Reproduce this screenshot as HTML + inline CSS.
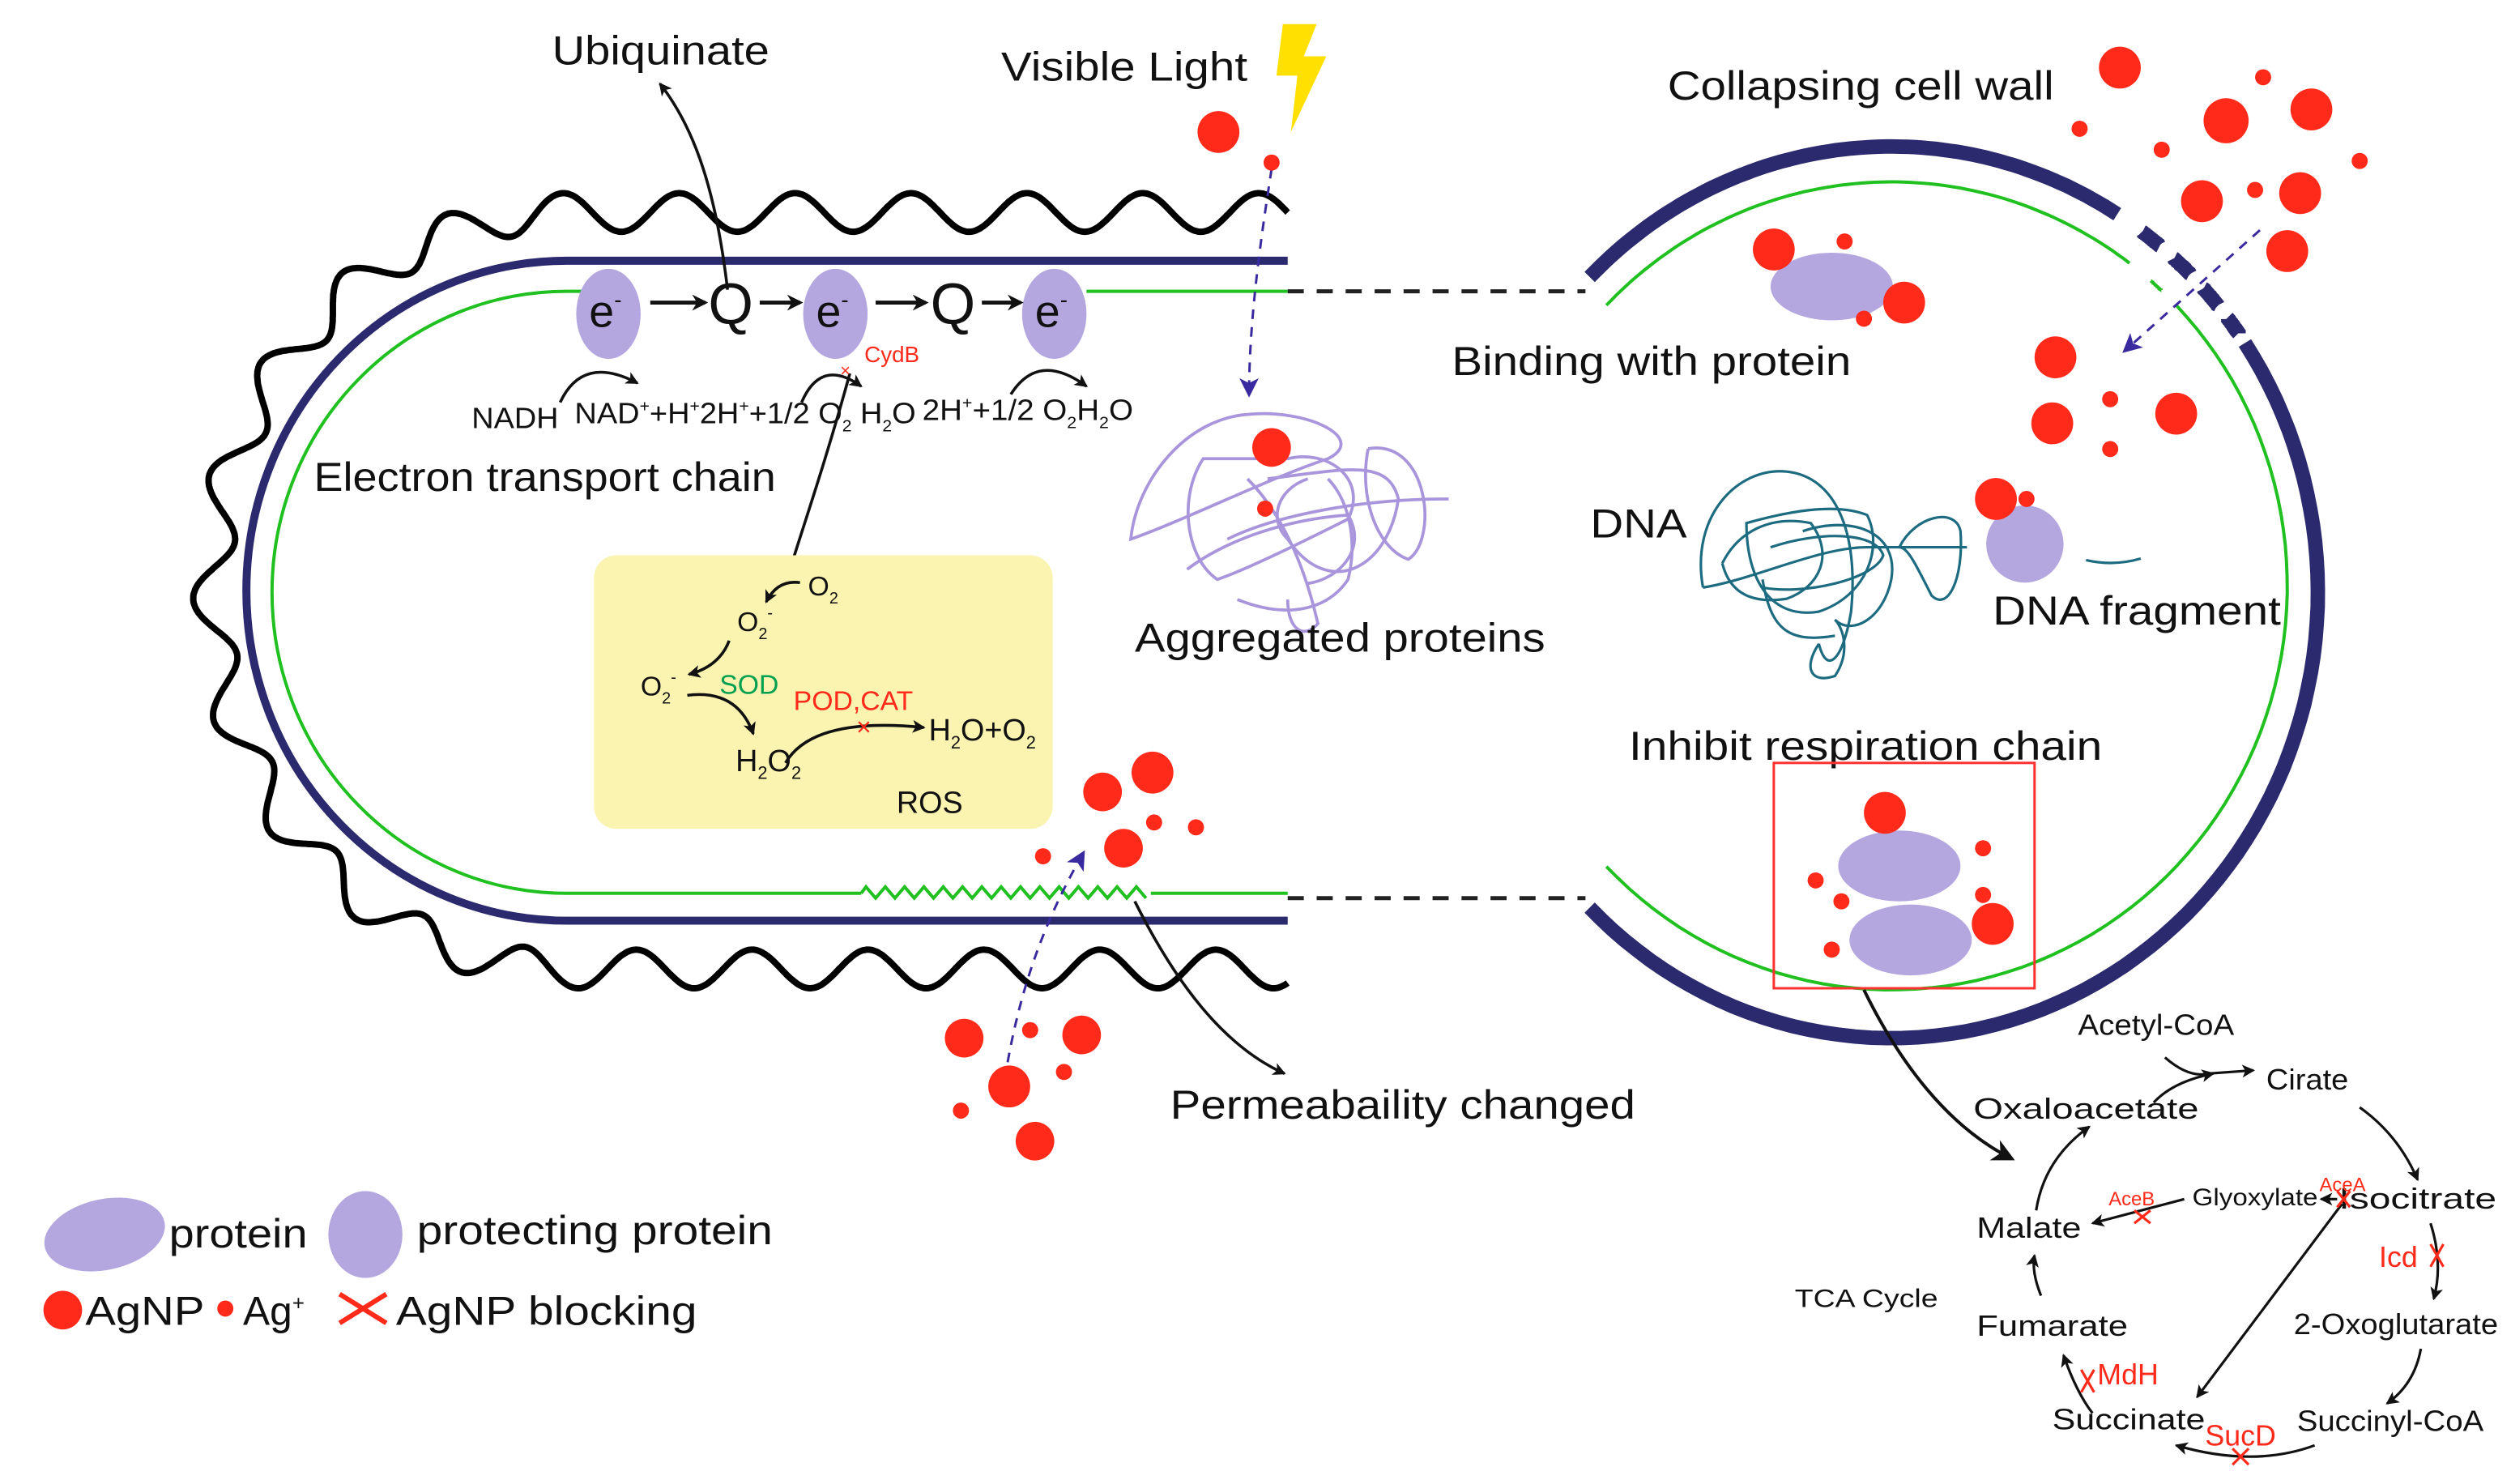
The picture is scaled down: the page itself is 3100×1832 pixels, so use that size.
<!DOCTYPE html>
<html><head><meta charset="utf-8">
<style>
html,body{margin:0;padding:0;background:#fff;}
svg{display:block;}
text{font-family:"Liberation Sans",Arial,sans-serif;fill:#111;}
.r{fill:#ff2a1a;}
.p{fill:#b4a7e0;}
</style></head>
<body>
<svg id="s" width="3100" height="1832" viewBox="0 0 1560 922" preserveAspectRatio="none" xmlns="http://www.w3.org/2000/svg">
<defs>
<marker id="ah" markerWidth="10" markerHeight="10" refX="8" refY="5" orient="auto" markerUnits="userSpaceOnUse"><path d="M0,0 L10,5 L0,10 L3,5 Z" fill="#111"/></marker>
<marker id="ahs" markerWidth="8" markerHeight="8" refX="7" refY="4" orient="auto" markerUnits="userSpaceOnUse"><path d="M0,0 L8,4 L0,8 L2,4 Z" fill="#111"/></marker>
<marker id="ahb" markerWidth="14" markerHeight="14" refX="12" refY="7" orient="auto" markerUnits="userSpaceOnUse"><path d="M0,0 L14,7 L0,14 L4,7 Z" fill="#111"/></marker>
<marker id="ap" markerWidth="12" markerHeight="12" refX="10" refY="6" orient="auto" markerUnits="userSpaceOnUse"><path d="M0,0 L12,6 L0,12 L3,6 Z" fill="#3a2aa0"/></marker>
</defs>

<!-- left cell -->
<path id="wave" d="" fill="none" stroke="#000" stroke-width="4"/>
<path d="M800,162 H352 A197,203 0 0 0 352,572 H800" fill="none" stroke="#2b2a6e" stroke-width="5"/>
<path d="M362,181 H352 A183,187 0 0 0 352,555 H535" fill="none" stroke="#1fc01f" stroke-width="2"/>
<path d="M715,555 H800" fill="none" stroke="#1fc01f" stroke-width="2"/>
<path id="zig" d="" fill="none" stroke="#1fc01f" stroke-width="2"/>
<path d="M675,181 H800" stroke="#1fc01f" stroke-width="2"/>
<path d="M800,181 H985 M800,558 H985" stroke="#222" stroke-width="2.5" stroke-dasharray="10,8"/>

<!-- ETC -->
<ellipse class="p" cx="378" cy="195" rx="20" ry="28"/>
<ellipse class="p" cx="519" cy="195" rx="20" ry="28"/>
<ellipse class="p" cx="655" cy="195" rx="20" ry="28"/>
<text x="366" y="203" font-size="28">e<tspan font-size="14" dy="-12">-</tspan></text>
<text x="507" y="203" font-size="28">e<tspan font-size="14" dy="-12">-</tspan></text>
<text x="643" y="203" font-size="28">e<tspan font-size="14" dy="-12">-</tspan></text>
<text x="440" y="201" font-size="36">Q</text>
<text x="578" y="201" font-size="36">Q</text>
<g stroke="#111" stroke-width="2.5" marker-end="url(#ah)">
<line x1="404" y1="188" x2="438" y2="188"/>
<line x1="472" y1="188" x2="497" y2="188"/>
<line x1="544" y1="188" x2="575" y2="188"/>
<line x1="610" y1="188" x2="634" y2="188"/>
</g>
<g fill="none" stroke="#111" stroke-width="1.8" marker-end="url(#ahs)">
<path d="M348,250 Q362,220 396,238"/>
<path d="M498,250 Q510,222 535,240"/>
<path d="M628,245 Q645,218 675,240"/>
<path d="M452,180 C445,120 432,80 410,52"/>
<path d="M528,232 C512,290 498,330 492,350 Q488,363 476,372"/>
<path d="M705,560 C730,610 760,650 798,667"/>
</g>
<text x="537" y="225" font-size="14" style="fill:#ff2a1a">CydB</text>
<text x="522" y="234" font-size="11" style="fill:#ff2a1a">×</text>
<text x="293" y="266" font-size="18" textLength="54" lengthAdjust="spacingAndGlyphs">NADH</text>
<text x="357" y="263" font-size="18" textLength="212" lengthAdjust="spacingAndGlyphs">NAD<tspan font-size="10" dy="-7">+</tspan><tspan dy="7">+H</tspan><tspan font-size="10" dy="-7">+</tspan><tspan dy="7">2H</tspan><tspan font-size="10" dy="-7">+</tspan><tspan dy="7">+1/2 O</tspan><tspan font-size="10" dy="5">2</tspan><tspan dy="-5"> H</tspan><tspan font-size="10" dy="5">2</tspan><tspan dy="-5">O</tspan></text>
<text x="573" y="261" font-size="18" textLength="131" lengthAdjust="spacingAndGlyphs">2H<tspan font-size="10" dy="-7">+</tspan><tspan dy="7">+1/2 O</tspan><tspan font-size="10" dy="5">2</tspan><tspan dy="-5">H</tspan><tspan font-size="10" dy="5">2</tspan><tspan dy="-5">O</tspan></text>
<text x="195" y="305" font-size="25" textLength="287" lengthAdjust="spacingAndGlyphs">Electron transport chain</text>
<text x="343" y="40" font-size="25" textLength="135" lengthAdjust="spacingAndGlyphs">Ubiquinate</text>
<text x="622" y="50" font-size="25" textLength="153" lengthAdjust="spacingAndGlyphs">Visible Light</text>
<path d="M797,15 L818,15 L810,35 L824,35 L802,82 L806,47 L793,47 Z" fill="#ffe000"/>

<!-- ROS box -->
<rect x="369" y="345" width="285" height="170" rx="14" fill="#fbf3b0"/>
<g fill="none" stroke="#111" stroke-width="1.8" marker-end="url(#ahs)">
<path d="M497,362 Q483,360 476,374"/>
<path d="M453,398 Q447,414 428,419"/>
<path d="M427,432 Q458,428 468,456"/>
<path d="M488,474 Q505,445 574,452"/>
</g>
<text x="502" y="370" font-size="17">O<tspan font-size="10" dy="5">2</tspan></text>
<text x="458" y="392" font-size="17">O<tspan font-size="10" dy="5">2</tspan><tspan font-size="10" dy="-13">-</tspan></text>
<text x="398" y="432" font-size="17">O<tspan font-size="10" dy="5">2</tspan><tspan font-size="10" dy="-13">-</tspan></text>
<text x="447" y="431" font-size="17" style="fill:#00a050">SOD</text>
<text x="493" y="441" font-size="17" style="fill:#ff2a1a">POD,CAT</text>
<text x="532" y="457" font-size="16" style="fill:#ff2a1a">×</text>
<text x="577" y="460" font-size="19">H<tspan font-size="11" dy="5">2</tspan><tspan dy="-5">O+O</tspan><tspan font-size="11" dy="5">2</tspan></text>
<text x="457" y="479" font-size="19">H<tspan font-size="11" dy="5">2</tspan><tspan dy="-5">O</tspan><tspan font-size="11" dy="5">2</tspan></text>
<text x="557" y="505" font-size="19">ROS</text>

<!-- aggregated proteins -->
<g fill="none" stroke="#a895dc" stroke-width="1.5" transform="translate(800,320) scale(1.25) translate(-790,-318)">
<path d="M770,268 C740,270 715,300 712,330 C740,320 780,300 810,290 C830,280 800,265 770,268 Z"/>
<path d="M748,290 C735,310 740,340 755,350 C770,345 800,330 820,320 C830,300 810,285 790,290 Z"/>
<path d="M780,300 C820,295 840,290 845,310 C840,345 810,360 790,330 C780,320 785,305 800,300"/>
<path d="M760,330 C780,320 820,310 870,310"/>
<path d="M770,300 C790,320 800,350 805,372 C798,380 790,375 790,360"/>
<path d="M765,360 C790,370 810,365 820,350 C825,330 820,310 810,300"/>
<path d="M830,285 C860,280 865,330 850,340 C835,335 825,310 830,285"/>
<path d="M740,345 C760,330 790,320 820,318 C830,335 815,350 800,352"/>
</g>
<circle class="r" cx="790" cy="278" r="12"/>
<circle class="r" cx="786" cy="316" r="5"/>
<path d="M790,105 C783,150 776,200 776,245" fill="none" stroke="#3a2aa0" stroke-width="1.5" stroke-dasharray="6,5" marker-end="url(#ap)"/>
<circle class="r" cx="757" cy="82" r="13"/>
<circle class="r" cx="790" cy="101" r="5"/>
<text x="705" y="405" font-size="25" textLength="255" lengthAdjust="spacingAndGlyphs">Aggregated proteins</text>

<!-- ROS-side dots and permeability -->
<circle class="r" cx="716" cy="480" r="13"/>
<circle class="r" cx="685" cy="492" r="12"/>
<circle class="r" cx="698" cy="527" r="12"/>
<circle class="r" cx="717" cy="511" r="5"/>
<circle class="r" cx="743" cy="514" r="5"/>
<circle class="r" cx="648" cy="532" r="5"/>
<circle class="r" cx="599" cy="645" r="12"/>
<circle class="r" cx="640" cy="640" r="5"/>
<circle class="r" cx="672" cy="643" r="12"/>
<circle class="r" cx="627" cy="675" r="13"/>
<circle class="r" cx="661" cy="666" r="5"/>
<circle class="r" cx="597" cy="690" r="5"/>
<circle class="r" cx="643" cy="709" r="12"/>
<path d="M626,660 C635,610 650,570 673,530" fill="none" stroke="#3a2aa0" stroke-width="1.5" stroke-dasharray="6,5" marker-end="url(#ap)"/>
<text x="727" y="695" font-size="25" textLength="289" lengthAdjust="spacingAndGlyphs">Permeabaility changed</text>

<!-- right cell -->
<path id="navy" d="" fill="none" stroke="#2b2a6e" stroke-width="9"/>
<path id="green" d="" fill="none" stroke="#1fc01f" stroke-width="2"/>
<text x="1036" y="62" font-size="25" textLength="240" lengthAdjust="spacingAndGlyphs">Collapsing cell wall</text>
<ellipse class="p" cx="1138" cy="178" rx="38" ry="21"/>
<circle class="r" cx="1102" cy="155" r="13"/>
<circle class="r" cx="1183" cy="188" r="13"/>
<circle class="r" cx="1146" cy="150" r="5"/>
<circle class="r" cx="1158" cy="198" r="5"/>
<text x="902" y="233" font-size="25" textLength="248" lengthAdjust="spacingAndGlyphs">Binding with protein</text>

<g>
<circle class="r" cx="1317" cy="42" r="13"/><circle class="r" cx="1383" cy="75" r="14"/><circle class="r" cx="1436" cy="68" r="13"/>
<circle class="r" cx="1406" cy="48" r="5"/><circle class="r" cx="1292" cy="80" r="5"/><circle class="r" cx="1343" cy="93" r="5"/>
<circle class="r" cx="1368" cy="125" r="13"/><circle class="r" cx="1429" cy="120" r="13"/><circle class="r" cx="1401" cy="118" r="5"/>
<circle class="r" cx="1466" cy="100" r="5"/><circle class="r" cx="1421" cy="156" r="13"/><circle class="r" cx="1277" cy="222" r="13"/>
<circle class="r" cx="1275" cy="263" r="13"/><circle class="r" cx="1352" cy="257" r="13"/><circle class="r" cx="1311" cy="248" r="5"/><circle class="r" cx="1311" cy="279" r="5"/>
</g>
<path d="M1404,143 L1320,218" fill="none" stroke="#3a2aa0" stroke-width="1.5" stroke-dasharray="6,5" marker-end="url(#ap)"/>

<text x="988" y="334" font-size="25" textLength="60" lengthAdjust="spacingAndGlyphs">DNA</text>
<g fill="none" stroke="#1d6b80" stroke-width="1.6">
<path d="M1058,365 C1050,320 1080,290 1110,293 C1140,296 1155,330 1150,380 C1145,410 1135,420 1130,400"/>
<path d="M1058,365 C1090,360 1130,340 1160,340 L1222,340"/>
<path d="M1085,325 C1110,318 1140,312 1160,320 C1170,340 1160,370 1130,380 C1100,385 1085,360 1085,325 Z"/>
<path d="M1100,340 C1130,330 1165,330 1170,345 C1165,360 1120,370 1095,365"/>
<path d="M1120,330 C1150,320 1180,330 1175,360 C1170,385 1150,395 1140,385"/>
<path d="M1180,340 C1190,320 1215,315 1218,330 C1220,360 1210,380 1200,370 C1190,350 1185,340 1180,340"/>
<path d="M1095,360 C1100,390 1110,400 1140,395"/>
<path d="M1130,400 C1120,415 1125,425 1140,420 C1150,405 1145,390 1140,385"/>
<path d="M1070,350 C1080,330 1100,320 1125,325 C1140,345 1130,365 1110,372 C1090,375 1075,370 1070,350"/>
</g>
<circle class="p" cx="1258" cy="338" r="24"/>
<circle class="r" cx="1240" cy="310" r="13"/>
<circle class="r" cx="1259" cy="310" r="5"/>
<path d="M1296,348 Q1313,352 1330,347" fill="none" stroke="#1d6b80" stroke-width="1.6"/>
<text x="1238" y="388" font-size="25" textLength="179" lengthAdjust="spacingAndGlyphs">DNA fragment</text>

<text x="1012" y="472" font-size="25" textLength="294" lengthAdjust="spacingAndGlyphs">Inhibit respiration chain</text>
<rect x="1102" y="474" width="162" height="140" fill="none" stroke="#ff3030" stroke-width="1.5"/>
<ellipse class="p" cx="1180" cy="538" rx="38" ry="22"/>
<ellipse class="p" cx="1187" cy="584" rx="38" ry="22"/>
<circle class="r" cx="1171" cy="505" r="13"/><circle class="r" cx="1238" cy="574" r="13"/>
<circle class="r" cx="1232" cy="527" r="5"/><circle class="r" cx="1232" cy="556" r="5"/>
<circle class="r" cx="1128" cy="547" r="5"/><circle class="r" cx="1144" cy="560" r="5"/><circle class="r" cx="1138" cy="590" r="5"/>
<path d="M1158,615 C1180,660 1210,700 1250,720" fill="none" stroke="#111" stroke-width="2" marker-end="url(#ahb)"/>

<!-- TCA -->
<g font-size="18">
<text x="1291" y="643" textLength="97" lengthAdjust="spacingAndGlyphs">Acetyl-CoA</text>
<text x="1408" y="677" textLength="51" lengthAdjust="spacingAndGlyphs">Cirate</text>
<text x="1226" y="695" textLength="140" lengthAdjust="spacingAndGlyphs">Oxaloacetate</text>
<text x="1453" y="751" textLength="98" lengthAdjust="spacingAndGlyphs">Isocitrate</text>
<text x="1362" y="749" font-size="15" textLength="78" lengthAdjust="spacingAndGlyphs">Glyoxylate</text>
<text x="1228" y="769" textLength="65" lengthAdjust="spacingAndGlyphs">Malate</text>
<text x="1115" y="812" font-size="16" textLength="89" lengthAdjust="spacingAndGlyphs">TCA Cycle</text>
<text x="1228" y="830" textLength="94" lengthAdjust="spacingAndGlyphs">Fumarate</text>
<text x="1425" y="829" textLength="127" lengthAdjust="spacingAndGlyphs">2-Oxoglutarate</text>
<text x="1275" y="888" textLength="95" lengthAdjust="spacingAndGlyphs">Succinate</text>
<text x="1427" y="889" textLength="116" lengthAdjust="spacingAndGlyphs">Succinyl-CoA</text>
<text x="1478" y="787" style="fill:#ff2a1a">Icd</text>
<text x="1303" y="860" style="fill:#ff2a1a">MdH</text>
<text x="1370" y="898" style="fill:#ff2a1a">SucD</text>
<text x="1310" y="749" font-size="12" style="fill:#ff2a1a">AceB</text>
<text x="1441" y="740" font-size="12" style="fill:#ff2a1a">AceA</text>
</g>
<g fill="none" stroke="#111" stroke-width="1.6" marker-end="url(#ahs)">
<path d="M1345,657 Q1360,670 1372,667 L1400,665"/>
<path d="M1338,685 Q1350,672 1375,667"/>
<path d="M1466,688 Q1490,705 1502,733"/>
<path d="M1510,760 Q1518,785 1512,807"/>
<path d="M1504,838 Q1500,860 1483,872"/>
<path d="M1438,898 Q1400,912 1352,898"/>
<path d="M1300,878 Q1290,865 1282,842"/>
<path d="M1268,805 Q1262,790 1264,780"/>
<path d="M1265,752 Q1270,720 1298,700"/>
<path d="M1452,745 L1442,745"/>
<path d="M1357,745 L1300,760"/>
<path d="M1455,748 L1365,868"/>
</g>
<g stroke="#ff2a1a" stroke-width="1.6">
<path d="M1452,740 L1460,750 M1460,740 L1452,750"/>
<path d="M1326,752 L1336,760 M1336,752 L1326,760"/>
<path d="M1510,773 L1518,787 M1518,773 L1510,787"/>
<path d="M1293,851 L1301,865 M1301,851 L1293,865"/>
<path d="M1387,900 L1397,910 M1397,900 L1387,910"/>
</g>

<!-- legend -->
<ellipse class="p" cx="65" cy="767" rx="38" ry="22" transform="rotate(-12 65 767)"/>
<text x="105" y="775" font-size="25" textLength="86" lengthAdjust="spacingAndGlyphs">protein</text>
<ellipse class="p" cx="227" cy="767" rx="23" ry="27"/>
<text x="259" y="773" font-size="25" textLength="221" lengthAdjust="spacingAndGlyphs">protecting protein</text>
<circle class="r" cx="39" cy="814" r="12"/>
<text x="53" y="823" font-size="25" textLength="74" lengthAdjust="spacingAndGlyphs">AgNP</text>
<circle class="r" cx="140" cy="813" r="5"/>
<text x="151" y="823" font-size="25">Ag<tspan font-size="13" dy="-9">+</tspan></text>
<path d="M211,804 L240,822 M240,804 L211,822" stroke="#ff2a1a" stroke-width="3"/>
<text x="246" y="823" font-size="25" textLength="187" lengthAdjust="spacingAndGlyphs">AgNP blocking</text>
</svg>
<script>
(function(){
var cx=352,cy=367,rx=220,ry=235,top=cy-ry,bot=cy+ry,A=12,P=72;
var pts=[];var N=2000;
function base(t){
 var L1=448,L3=448,Larc=Math.PI*(rx+ry)/2,T=L1+Larc+L3,s=t*T,x,y,nx,ny;
 if(s<L1){x=800-s;y=top;nx=0;ny=-1;}
 else if(s<L1+Larc){var a=Math.PI/2+(s-L1)/Larc*Math.PI;x=cx+rx*Math.cos(a);y=cy-ry*Math.sin(a);
  var gx=Math.cos(a)/rx,gy=-Math.sin(a)/ry,g=Math.hypot(gx,gy);nx=gx/g;ny=gy/g;}
 else{x=352+(s-L1-Larc);y=bot;nx=0;ny=1;}
 return [x,y,nx,ny,s];}
for(var i=0;i<=N;i++){var b=base(i/N);var o=A*Math.sin(2*Math.PI*b[4]/P);pts.push((b[0]+b[2]*o).toFixed(1)+','+(b[1]+b[3]*o).toFixed(1));}
document.getElementById('wave').setAttribute('d','M'+pts.join(' L'));
var z='M535,555';for(var x=535,k=0;x<715;x+=6,k++){z+=' L'+(x+3)+','+(k%2?558:551);}
document.getElementById('zig').setAttribute('d',z);
function arc(cx,cy,rx,ry,a0,a1){var d='';var n=80;for(var i=0;i<=n;i++){var a=(a0+(a1-a0)*i/n)*Math.PI/180;d+=(i?' L':'M')+(cx+rx*Math.cos(a)).toFixed(1)+','+(cy-ry*Math.sin(a)).toFixed(1);}return d;}
var nd=arc(1175,368,265,277,135,58)+' '+arc(1175,368,265,277,34,-135);
[[54,51],[48.5,45.5],[43,40],[38,35.5]].forEach(function(p){nd+=' '+arc(1175,368,265,277,p[0],p[1]);});
document.getElementById('navy').setAttribute('d',nd);
var gd=arc(1175,364,246,251,136,53)+' '+arc(1175,364,246,251,49,47)+' '+arc(1175,364,246,251,44,-136);
document.getElementById('green').setAttribute('d',gd);
})();
</script>
</body></html>
